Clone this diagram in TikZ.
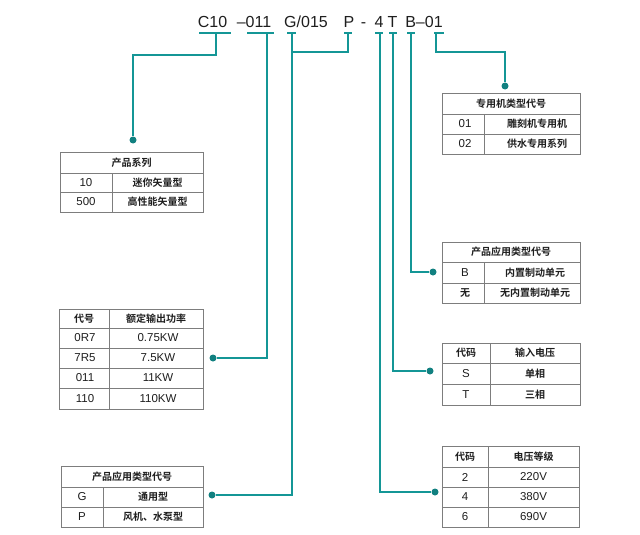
\documentclass[tikz,border=0pt]{standalone}
\usepackage{fontspec}
\setmainfont{Liberation Sans}
\newfontfamily\cjk{Noto Sans CJK SC}[BoldFont={* Bold}]
\definecolor{lnkteal}{RGB}{20,150,150}
\definecolor{tblgray}{RGB}{125,125,125}
\definecolor{txtdark}{RGB}{30,30,30}

\begin{document}
\begin{tikzpicture}
[
    x=1pt, y=-1pt,
    code/.style={anchor=base, inner sep=0pt, text=txtdark, font=\fontsize{16}{16}\selectfont},
    cn/.style={inner sep=0pt, text=txtdark, font=\cjk\bfseries\fontsize{10}{10}\selectfont},
    en/.style={inner sep=0pt, text=txtdark, font=\fontsize{11.5}{11.5}\selectfont},
    tbl/.style={draw=tblgray, line width=0.9pt},
    lnk/.style={draw=lnkteal, line width=1.5pt},
    dot/.style={circle, fill=lnkteal!85!black, inner sep=0pt, minimum size=7pt},
]
\useasboundingbox (0,0) rectangle (640,535);

\node[code] (c10) at (212.5,28) {C10};
\node[code] (n011) at (254,28) {–011};
\node[code] (g015) at (306,28) {G/015};
\node[code] (p) at (349,28) {P};
\node[code] (dash) at (363.5,28) {-};
\node[code] (four) at (379,28) {4};
\node[code] (t) at (392.5,28) {T};
\node[code] (b01) at (424,28) {B–01};

\draw[lnk] (199,33) -- (231,33) (247,33) -- (274,33) (287,33) -- (296,33)
    (344,33) -- (352,33) (375,33) -- (383,33) (389,33) -- (397,33)
    (407,33) -- (415,33) (434,33) -- (444,33);
\coordinate (u-c10) at (216,33);
\coordinate (u-011) at (267,33);
\coordinate (u-g) at (292,33);
\coordinate (u-p) at (348,33);
\coordinate (u-4) at (380,33);
\coordinate (u-t) at (393,33);
\coordinate (u-b) at (411,33);
\coordinate (u-01) at (436,33);

\node[dot] (ser-dot) at (133,140) {};
\node[dot] (pow-dot) at (213,358) {};
\node[dot] (app-dot) at (212,495) {};
\node[dot] (spec-dot) at (505,86) {};
\node[dot] (brk-dot) at (433,272) {};
\node[dot] (vin-dot) at (430,371) {};
\node[dot] (vlt-dot) at (435,492) {};

\draw[lnk] (u-c10) -- ++(0,22) -| (ser-dot);
\draw[lnk] (u-011) |- (pow-dot);
\draw[lnk] (u-p) -- ++(0,19) -| (u-g);
\draw[lnk] (u-g) |- (app-dot);
\draw[lnk] (u-01) -- ++(0,19) -| (spec-dot);
\draw[lnk] (u-b) |- (brk-dot);
\draw[lnk] (u-t) |- (vin-dot);
\draw[lnk] (u-4) |- (vlt-dot);

% 产品系列
\draw[tbl] (60,152) rectangle (203,212) (60,173) -- (203,173) (60,192) -- (203,192) (112,173) -- (112,212);
\node[cn] (ser-h) at (131.5,162.5) {产品系列};
\node[en] (ser-a1) at (86,182.5) {10};
\node[cn] (ser-a2) at (157.5,182.5) {迷你矢量型};
\node[en] (ser-b1) at (86,202) {500};
\node[cn] (ser-b2) at (157.5,202) {高性能矢量型};

% 功率
\draw[tbl] (59,309) rectangle (203,409) (59,328) -- (203,328) (59,348) -- (203,348)
    (59,368) -- (203,368) (59,388) -- (203,388) (109,309) -- (109,409);
\node[cn] (pow-h1) at (84,318.5) {代号};
\node[cn] (pow-h2) at (156,318.5) {额定输出功率};
\node[en] (pow-a1) at (85,338) {0R7};
\node[en] (pow-a2) at (158,338) {0.75KW};
\node[en] (pow-b1) at (85,358) {7R5};
\node[en] (pow-b2) at (158,358) {7.5KW};
\node[en] (pow-c1) at (85,378) {011};
\node[en] (pow-c2) at (158,378) {11KW};
\node[en] (pow-d1) at (85,398.5) {110};
\node[en] (pow-d2) at (158,398.5) {110KW};

% 应用类型
\draw[tbl] (61,466) rectangle (203,527) (61,487) -- (203,487) (61,507) -- (203,507) (103,487) -- (103,527);
\node[cn] (app-h) at (132,476.5) {产品应用类型代号};
\node[en] (app-a1) at (82,497) {G};
\node[cn] (app-a2) at (153,497) {通用型};
\node[en] (app-b1) at (82,517) {P};
\node[cn] (app-b2) at (153,517) {风机、水泵型};

% 专用机
\draw[tbl] (442,93) rectangle (580,154) (442,114) -- (580,114) (442,134) -- (580,134) (484,114) -- (484,154);
\node[cn] (spec-h) at (511,103.5) {专用机类型代号};
\node[en] (spec-a1) at (465,124) {01};
\node[cn] (spec-a2) at (537,124) {雕刻机专用机};
\node[en] (spec-b1) at (465,144) {02};
\node[cn] (spec-b2) at (537,144) {供水专用系列};

% 制动单元
\draw[tbl] (442,242) rectangle (580,303) (442,262) -- (580,262) (442,283) -- (580,283) (484,262) -- (484,303);
\node[cn] (brk-h) at (511,252) {产品应用类型代号};
\node[en] (brk-a1) at (465,272.5) {B};
\node[cn] (brk-a2) at (535,272.5) {内置制动单元};
\node[cn] (brk-b1) at (465,293) {无};
\node[cn] (brk-b2) at (535,293) {无内置制动单元};

% 输入电压
\draw[tbl] (442,343) rectangle (580,405) (442,363) -- (580,363) (442,384) -- (580,384) (490,343) -- (490,405);
\node[cn] (vin-h1) at (466,353) {代码};
\node[cn] (vin-h2) at (535,353) {输入电压};
\node[en] (vin-a1) at (466,373.5) {S};
\node[cn] (vin-a2) at (535,373.5) {单相};
\node[en] (vin-b1) at (466,394.5) {T};
\node[cn] (vin-b2) at (535,394.5) {三相};

% 电压等级
\draw[tbl] (442,446) rectangle (579,527) (442,467) -- (579,467) (442,487) -- (579,487)
    (442,507) -- (579,507) (488,446) -- (488,527);
\node[cn] (vlt-h1) at (465,456.5) {代码};
\node[cn] (vlt-h2) at (533.5,456.5) {电压等级};
\node[en] (vlt-a1) at (465,477) {2};
\node[en] (vlt-a2) at (533.5,477) {220V};
\node[en] (vlt-b1) at (465,497) {4};
\node[en] (vlt-b2) at (533.5,497) {380V};
\node[en] (vlt-c1) at (465,517) {6};
\node[en] (vlt-c2) at (533.5,517) {690V};
\end{tikzpicture}
\end{document}
